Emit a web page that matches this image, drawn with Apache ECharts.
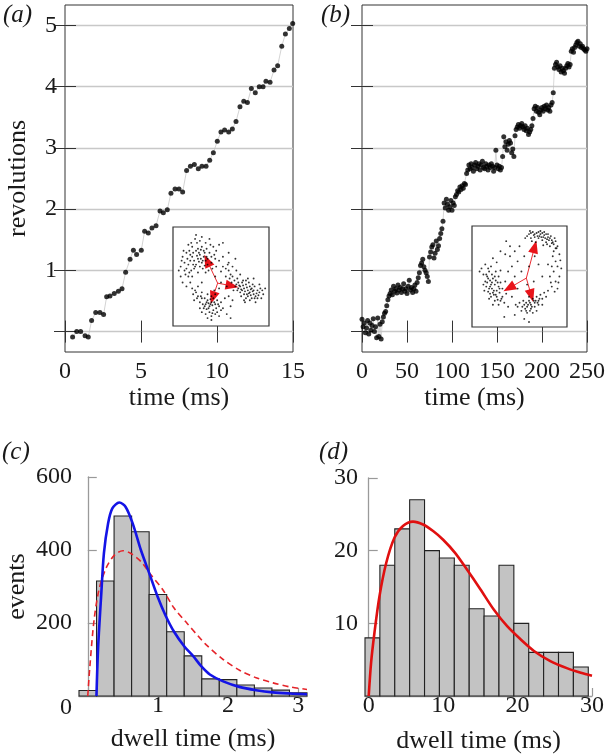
<!DOCTYPE html>
<html><head><meta charset="utf-8">
<script src="https://cdn.jsdelivr.net/npm/echarts@6/dist/echarts.min.js"></script>
<style>html,body{margin:0;padding:0;background:#fff}#c{width:608px;height:755px}</style>
</head><body><div id="c"></div>
<script>
// ---------- data ----------
const aTime=[0.5,0.77,1.03,1.32,1.53,1.75,2.02,2.3,2.54,2.74,2.96,3.24,3.51,3.75,3.99,4.28,4.5,4.71,5.02,5.24,5.48,5.72,5.99,6.25,6.47,6.73,6.97,7.24,7.5,7.74,8.0,8.25,8.51,8.77,9.01,9.28,9.52,9.76,10.02,10.26,10.5,10.77,11.01,11.25,11.51,11.76,12.0,12.26,12.52,12.78,13.03,13.22,13.49,13.75,13.99,14.26,14.5,14.76,14.98];
const aRev=[-0.09,0.0,0.0,-0.07,-0.09,0.18,0.31,0.31,0.28,0.57,0.58,0.62,0.66,0.70,0.97,1.18,1.33,1.26,1.33,1.64,1.61,1.69,1.73,1.97,1.94,1.99,2.26,2.33,2.33,2.28,2.63,2.70,2.73,2.66,2.70,2.70,2.80,2.92,3.11,3.26,3.29,3.26,3.31,3.43,3.67,3.76,3.74,3.97,3.90,4.0,4.0,4.09,4.07,4.27,4.34,4.66,4.86,4.95,5.03];
const bTrace=[[0,0.20],[1.25,0.08],[2.5,0.14],[3.75,-0.02],[5,0.06],[6.25,0.18],[7.5,-0.04],[8.75,0.14],[10,0.02],[11.25,0.10],[12.5,0.21],[13.75,0.0],[15,0.08],[16.25,-0.10],[17.5,0.22],[18.75,-0.08],[20,0.12],[21.25,-0.12],[22.5,0.16],[23.75,0.24],
[25,0.30],[26.25,0.33],[27.5,0.42],[28.75,0.52],[30,0.58],[31.25,0.62],
[32.5,0.68],[33.75,0.60],[35,0.74],[36.25,0.66],[37.5,0.70],[38.75,0.63],[40,0.76],[41.25,0.68],[42.5,0.72],[43.75,0.64],[45,0.70],[46.25,0.78],[47.5,0.66],[48.75,0.70],[50,0.62],[51.25,0.74],[52.5,0.84],[53.75,0.68],[55,0.72],[56.25,0.64],[57.5,0.70],[58.75,0.76],[60,0.66],[61.25,0.80],
[62.5,0.88],[63.75,0.96],[65,1.08],[66.25,1.12],[67.5,1.18],[68.75,1.06],[70,1.0],[71.25,0.96],[72.5,0.90],[73.75,0.82],[75,1.22],[76.25,1.30],
[77.5,1.38],[78.75,1.42],[80,1.20],[81.25,1.28],[82.5,1.48],[83.75,1.34],[85,1.40],[86.25,1.52],
[87.5,1.60],[88.75,1.68],[90,1.80],
[91.25,2.10],[92.5,2.02],[93.75,2.16],[95,2.08],[96.25,1.98],[97.5,2.04],[98.75,2.14],[100,1.98],[101.25,2.10],[102.5,2.06],[103.75,2.20],
[105,2.24],[106.25,2.30],[107.5,2.28],[108.75,2.36],[110,2.32],[111.25,2.38],[112.5,2.34],[113.75,2.42],[115,2.40],
[116.25,2.58],[117.5,2.64],[118.75,2.72],[120,2.66],[121.25,2.74],[122.5,2.68],[123.75,2.62],[125,2.72],[126.25,2.76],[127.5,2.66],[128.75,2.70],[130,2.74],[131.25,2.64],[132.5,2.72],[133.75,2.78],[135,2.68],[136.25,2.66],[137.5,2.74],[138.75,2.70],[140,2.64],[141.25,2.72],[142.5,2.68],[143.75,2.74],[145,2.70],[146.25,2.62],[147.5,2.68],[148.75,2.96],[150,2.72],[151.25,2.66],[152.5,2.70],[153.75,2.64],[155,2.68],
[156.25,2.86],[157.5,3.18],[158.75,3.02],[160,3.10],[161.25,2.96],[162.5,3.06],[163.75,3.12],[165,3.08],[166.25,2.92],[167.5,2.98],[168.75,2.86],[170,3.20],
[171.25,3.30],[172.5,3.34],[173.75,3.38],[175,3.32],[176.25,3.36],[177.5,3.40],[178.75,3.34],[180,3.30],[181.25,3.36],[182.5,3.28],[183.75,3.32],[185,3.22],[186.25,3.26],[187.5,3.30],[188.75,3.36],[190,3.48],
[191.25,3.64],[192.5,3.68],[193.75,3.60],[195,3.66],[196.25,3.58],[197.5,3.54],[198.75,3.62],[200,3.66],[201.25,3.60],[202.5,3.68],[203.75,3.64],[205,3.70],[206.25,3.62],[207.5,3.66],[208.75,3.60],[210,3.70],[211.25,3.74],[212.5,3.90],
[213.75,4.30],[215,4.36],[216.25,4.40],[217.5,4.32],[218.75,4.28],[220,4.34],[221.25,4.24],[222.5,4.30],[223.75,4.26],[225,4.22],[226.25,4.30],[227.5,4.34],[228.75,4.38],[230,4.32],[231.25,4.36],
[232.5,4.58],[233.75,4.62],[235,4.56],[236.25,4.64],[237.5,4.68],[238.75,4.72],[240,4.74],[241.25,4.66],[242.5,4.70],[243.75,4.64],[245,4.66],[246.25,4.62],[247.5,4.60],[248.75,4.58],[250,4.62]];

const insetA=[[20,80],[24,76],[28,72],[32,70],[26,68],[22,66],[30,64],[34,66],[18,72],[15,68],[25,84],[30,80],[35,78],[38,74],[40,70],[36,62],[28,60],[22,58],[16,62],[12,64],[20,70],[27,74],[33,74],[29,68],[24,62],[31,58],[19,56],[14,58],[10,70],[17,76],[23,88],[28,86],[34,84],[42,80],[45,76],[40,64],[37,56],[26,54],[20,50],[13,52],[8,60],[11,76],[21,62],[26,78],[31,66],[35,70],[43,72],[48,82],[38,88],[16,82],
[21,74],[25,71],[29,77],[33,61],[18,66],[23,60],[27,65],[32,76],[36,68],[14,74],[19,84],[24,92],[30,90],[39,82],[44,68],[41,58],[34,54],[17,54],[12,56],[9,66],
[70,40],[74,38],[78,36],[72,36],[76,42],[80,34],[68,44],[66,42],[82,38],[84,32],[86,30],[88,28],[78,30],[74,32],[70,34],[64,46],[62,50],[60,52],[58,56],[72,44],[76,46],[80,40],[84,36],[90,34],[92,28],[86,24],[82,28],[76,28],[68,38],[65,40],[73,41],[77,39],[81,37],[79,44],[85,40],[88,36],[71,30],[63,36],[67,48],[55,58],[57,62],[52,60],[90,42],[94,32],[75,24],
[71,37],[75,35],[79,33],[83,35],[87,33],[69,41],[73,46],[77,32],[81,31],[85,28],[89,31],[67,36],[61,44],[59,48],[91,38],[93,36],[83,42],[78,48],[74,26],[80,26],
[36,26],[40,24],[34,22],[38,20],[42,28],[30,28],[28,24],[44,22],[46,26],[32,18],[38,14],[42,16],[48,20],[50,24],[26,30],[24,34],[30,34],[36,32],[40,30],[44,32],[34,12],[40,10],[46,14],[52,18],[28,18],[22,26],[20,38],[26,40],[33,28],[37,23],[41,21],[35,17],[45,18],[39,27],[31,22],[48,10],[54,28],[18,44],[16,50],[43,36],
[35,24],[39,22],[43,24],[37,18],[41,13],[33,20],[29,30],[25,28],[47,22],[44,12],[50,16],[36,8],[30,14],[23,36],[21,32],
[45,60],[50,55],[55,50],[48,66],[52,70],[58,64],[62,60],[44,50],[50,44],[56,40],[48,38],[58,30],[60,20],[56,12],[62,26],[10,44],[8,50],[6,56],[14,40],[52,84],[58,74],[65,68],[66,56],[30,44],[96,38],[60,8],[40,6],[84,48],[70,52]];
const insetB=[[60,92],[64,94],[68,93],[72,92],[76,91],[80,89],[84,86],[86,82],[70,88],[66,89],[62,88],[74,86],[78,84],[82,80],[88,78],[58,90],[56,88],[72,95],[76,94],[80,92],[65,91],[69,90],[73,89],[77,88],[81,86],[85,84],[88,85],[90,80],[67,84],[63,85],[75,81],[79,82],[83,90],[61,95],[87,88],
[62,93],[66,92],[70,94],[74,93],[78,92],[82,88],[71,90],[75,89],[79,87],[84,83],
[20,60],[18,55],[16,50],[14,45],[15,40],[17,35],[20,30],[24,26],[28,22],[22,48],[24,42],[26,36],[20,42],[18,38],[22,34],[26,30],[30,26],[12,52],[10,58],[14,62],[25,55],[28,50],[30,44],[32,38],[28,40],[24,50],[19,46],[21,38],[23,32],[27,27],[16,44],[13,36],[18,28],[22,22],[32,30],[34,24],[30,56],[26,64],[22,68],[8,55],[35,45],[36,33],[12,42],[25,46],[29,34],
[17,48],[19,40],[21,44],[23,36],[25,32],[15,52],[17,58],[21,52],[27,44],[29,38],[31,28],[19,33],
[55,22],[58,20],[62,22],[66,24],[70,26],[74,28],[60,26],[64,28],[68,30],[56,18],[52,16],[48,20],[62,18],[66,20],[70,22],[72,32],[76,34],[60,30],[54,26],[58,14],[64,14],[50,24],[46,22],[68,16],[74,22],[78,30],[65,26],[61,24],[57,24],[53,20],
[59,22],[63,20],[67,26],[71,28],[57,16],[61,16],[69,24],
[85,70],[88,65],[90,60],[86,55],[92,50],[88,45],[84,40],[90,38],[82,50],[86,75],[92,72],[94,58],[80,62],[83,44],[91,44],[87,35],[80,36],[93,66],[89,78],[84,60],
[40,70],[45,75],[35,72],[50,80],[42,60],[38,55],[48,65],[55,70],[60,60],[45,50],[52,55],[40,80],[30,75],[36,85],[66,70],[70,62],[74,50],[65,45],[58,42],[48,38],[42,30],[38,20],[45,12],[34,10],[55,8],[60,5]];
const insetAArrows=[[[46.5,43.3],[35.5,66]],[[46.5,43.3],[61.5,40.5]],[[46.5,43.3],[41.4,28.5]]];
const insetBArrows=[[[57.2,48.4],[66,79.5]],[[57.2,48.4],[39,38.5]],[[57.2,48.4],[62.5,31]]];

const cBinCenters=[0,0.25,0.5,0.75,1.0,1.25,1.5,1.75,2.0,2.25,2.5,2.75,3.0];
const cCounts=[15,315,493,450,278,176,110,47,45,30,22,16,9];
const cFitBlue=[[0.124,0],[0.135,70],[0.148,136],[0.17,210],[0.19,272],[0.23,391],[0.29,473],[0.35,514],[0.45,530],[0.54,518],[0.64,473],[0.757,400],[0.877,336],[0.996,272],[1.11,220],[1.23,176],[1.38,135],[1.5,110],[1.62,81],[1.74,59],[1.93,40],[2.16,25],[2.4,16],[2.64,10],[2.88,7],[3.125,5]];
const cFitRed=[[0,0],[0.03,81],[0.09,209],[0.16,291],[0.26,350],[0.38,386],[0.5,398],[0.61,391],[0.76,368],[0.9,332],[1.07,291],[1.23,241],[1.42,198],[1.57,165],[1.69,140],[1.93,100],[2.17,70],[2.4,50],[2.64,36],[2.88,25],[3.125,18]];
const dBinCenters=[0.5,2.5,4.5,6.5,8.5,10.5,12.5,14.5,16.5,18.5,20.5,22.5,24.5,26.5,28.5];
const dCounts=[8,18,23,27,20,19,18,12,11,18,10,6,6,6,4];
const dFit=[[0,0],[0.32,4.6],[0.77,8.7],[1.44,13.7],[2.35,18.3],[3.47,21.8],[4.6,23.4],[5.95,24],[7.3,23.6],[8.65,22.7],[10,21.5],[11.6,19.7],[13.2,17.4],[15,14.7],[16.8,11.9],[18.6,9.6],[20.4,7.8],[22.2,6.2],[24.4,4.8],[26.7,3.8],[28.5,3.2],[30,2.8]];

const revTicks=[0,1,2,3,4,5];
const revLabels=[1,2,3,4,5];
const cXTicks=[0,1,2,3], cXLabels=[1,2,3];
const cYTicks=[200,400,600], cYLabels=[0,200,400,600];
const dXTicks=[0,10,20,30], dXLabels=[0,10,20,30];
const dYTicks=[10,20,30], dYLabels=[10,20,30];

// ---------- styles ----------
const FONT="'Liberation Serif', 'Times New Roman', Times, Tinos, 'Nimbus Roman', serif";
const TXT='#1a1a1a';
const lab=(extra)=>Object.assign({fontFamily:FONT,fontSize:24,color:TXT},extra||{});
const nameStyle={fontFamily:FONT,fontSize:26,color:TXT};
const darkTick={show:true,inside:true,length:11,lineStyle:{color:'#333',width:1}};
const grayTick=(vals,len)=>({show:true,inside:true,length:len,customValues:vals,lineStyle:{color:'#999',width:1.2}});
const grayLine={show:true,lineStyle:{color:'#9a9a9a',width:1.3}};
const hidden={type:'value',show:false,min:0,max:100};

function histItem(width,fill){
  return function(params,api){
    const x=api.value(0),h=api.value(1);
    const p0=api.coord([x-width/2,0]),p1=api.coord([x+width/2,h]);
    return {type:'rect',shape:{x:p0[0],y:p1[1],width:p1[0]-p0[0],height:p0[1]-p1[1]},
      style:{fill:fill,stroke:'#222',lineWidth:1.1}};
  };
}
const arrowLines=(arr)=>arr.map(a=>[{coord:a[0]},{coord:a[1]}]);

const revAxis=(grid,pos,withLabels)=>({
  type:'value',gridIndex:grid,position:pos,min:-1/3,max:16/3,interval:1/3,
  axisLine:{show:false},
  axisTick:Object.assign({customValues:revTicks},darkTick),
  axisLabel:withLabels?lab({customValues:revLabels,margin:8}):{show:false},
  splitLine:{show:pos==='left',lineStyle:{color:'#c8c8c8',width:1.3}},
  name:withLabels?'revolutions':'',nameLocation:'middle',nameGap:34,nameRotate:90,nameTextStyle:nameStyle
});
const timeAxis=(grid,pos,max,interval,withLabels)=>({
  type:'value',gridIndex:grid,position:pos,min:0,max:max,interval:interval,
  axisLine:{show:false},axisTick:darkTick,
  axisLabel:withLabels?lab({margin:8}):{show:false},
  splitLine:{show:false},
  name:withLabels?'time (ms)':'',nameLocation:'middle',nameGap:32,nameTextStyle:nameStyle
});

const option={
  animation:false,
  backgroundColor:'#fff',
  grid:[
    {left:65,top:5,width:228,height:347,show:true,borderColor:'#333',borderWidth:1,backgroundColor:'transparent'},
    {left:362,top:5,width:227,height:347,show:true,borderColor:'#333',borderWidth:1,backgroundColor:'transparent'},
    {left:173,top:227,width:96,height:99,show:true,backgroundColor:'#fff',borderColor:'#333',borderWidth:1.2,z:5},
    {left:472,top:226,width:95,height:101,show:true,backgroundColor:'#fff',borderColor:'#333',borderWidth:1.2,z:5},
    {left:79,top:477,width:228,height:219},
    {left:365,top:478,width:227,height:219}
  ],
  xAxis:[
    timeAxis(0,'bottom',15,5,true),
    timeAxis(0,'top',15,5,false),
    timeAxis(1,'bottom',250,50,true),
    timeAxis(1,'top',250,50,false),
    Object.assign({gridIndex:2},hidden),
    Object.assign({gridIndex:3},hidden),
    {type:'value',gridIndex:4,min:-0.125,max:3.125,axisLine:grayLine,axisTick:grayTick(cXTicks,8),
     axisLabel:lab({customValues:cXLabels,margin:-2}),splitLine:{show:false},
     name:'dwell time (ms)',nameLocation:'middle',nameGap:30,nameTextStyle:nameStyle},
    {type:'value',gridIndex:5,min:-0.5,max:30,axisLine:grayLine,axisTick:grayTick(dXTicks,8),
     axisLabel:lab({customValues:dXLabels,margin:-2}),splitLine:{show:false},
     name:'dwell time (ms)',nameLocation:'middle',nameGap:32,nameTextStyle:nameStyle}
  ],
  yAxis:[
    revAxis(0,'left',true),
    revAxis(0,'right',false),
    Object.assign(revAxis(1,'left',false),{name:''}),
    revAxis(1,'right',false),
    Object.assign({gridIndex:2},hidden),
    Object.assign({gridIndex:3},hidden),
    {type:'value',gridIndex:4,min:0,max:600,axisLine:grayLine,axisTick:grayTick(cYTicks,9),
     axisLabel:lab({customValues:cYLabels,margin:7,formatter:v=>v===0?'\n0':String(v)}),splitLine:{show:false},
     name:'events',nameLocation:'middle',nameGap:49,nameRotate:90,nameTextStyle:nameStyle},
    {type:'value',gridIndex:5,min:0,max:30,axisLine:grayLine,axisTick:grayTick(dYTicks,9),
     axisLabel:lab({customValues:dYLabels,margin:7}),splitLine:{show:false}}
  ],
  graphic:[
    {type:'text',left:3,top:3,style:{text:'(a)',fontFamily:FONT,fontSize:25,fontStyle:'italic',fill:TXT}},
    {type:'text',left:321,top:3,style:{text:'(b)',fontFamily:FONT,fontSize:25,fontStyle:'italic',fill:TXT}},
    {type:'text',left:2,top:440,style:{text:'(c)',fontFamily:FONT,fontSize:25,fontStyle:'italic',fill:TXT}},
    {type:'text',left:319,top:440,style:{text:'(d)',fontFamily:FONT,fontSize:25,fontStyle:'italic',fill:TXT}}
  ],
  series:[
    {type:'line',xAxisIndex:0,yAxisIndex:0,data:aTime.map((t,i)=>[t,aRev[i]]),symbol:'none',
     lineStyle:{color:'#c0c0c0',width:0.7},z:2},
    {type:'scatter',xAxisIndex:0,yAxisIndex:0,data:aTime.map((t,i)=>[t,aRev[i]]),symbolSize:5,
     itemStyle:{color:'#000'},z:3},
    {type:'line',xAxisIndex:2,yAxisIndex:2,data:bTrace,symbol:'none',lineStyle:{color:'#c0c0c0',width:0.6},z:2},
    {type:'scatter',xAxisIndex:2,yAxisIndex:2,data:bTrace,symbolSize:5,itemStyle:{color:'#000'},z:3},
    {type:'scatter',xAxisIndex:4,yAxisIndex:4,data:insetA,symbolSize:1.9,itemStyle:{color:'#000'},z:6,
     markLine:{silent:true,animation:false,symbol:['none','triangle'],symbolSize:[10,13],label:{show:false},
       lineStyle:{color:'#e8141a',width:0.9,type:'solid'},data:arrowLines(insetAArrows)}},
    {type:'scatter',xAxisIndex:5,yAxisIndex:5,data:insetB,symbolSize:1.9,itemStyle:{color:'#000'},z:6,
     markLine:{silent:true,animation:false,symbol:['none','triangle'],symbolSize:[10,13],label:{show:false},
       lineStyle:{color:'#e8141a',width:0.9,type:'solid'},data:arrowLines(insetBArrows)}},
    {type:'custom',xAxisIndex:6,yAxisIndex:6,data:cBinCenters.map((c,i)=>[c,cCounts[i]]),
     renderItem:histItem(0.25,'#c3c3c3'),z:2},
    {type:'line',xAxisIndex:6,yAxisIndex:6,data:cFitRed,symbol:'none',smooth:0.3,
     lineStyle:{color:'#e5242a',width:1.6,type:[6,4]},z:3},
    {type:'line',xAxisIndex:6,yAxisIndex:6,data:cFitBlue,symbol:'none',smooth:0.3,
     lineStyle:{color:'#1414e6',width:2.6},z:4},
    {type:'custom',xAxisIndex:7,yAxisIndex:7,data:dBinCenters.map((c,i)=>[c,dCounts[i]]),
     renderItem:histItem(2,'#c3c3c3'),z:2},
    {type:'line',xAxisIndex:7,yAxisIndex:7,data:dFit,symbol:'none',smooth:0.3,
     lineStyle:{color:'#e01010',width:2.6},z:4}
  ]
};
const chart=echarts.init(document.getElementById('c'),null,{renderer:'canvas'});
chart.setOption(option);
</script></body></html>
